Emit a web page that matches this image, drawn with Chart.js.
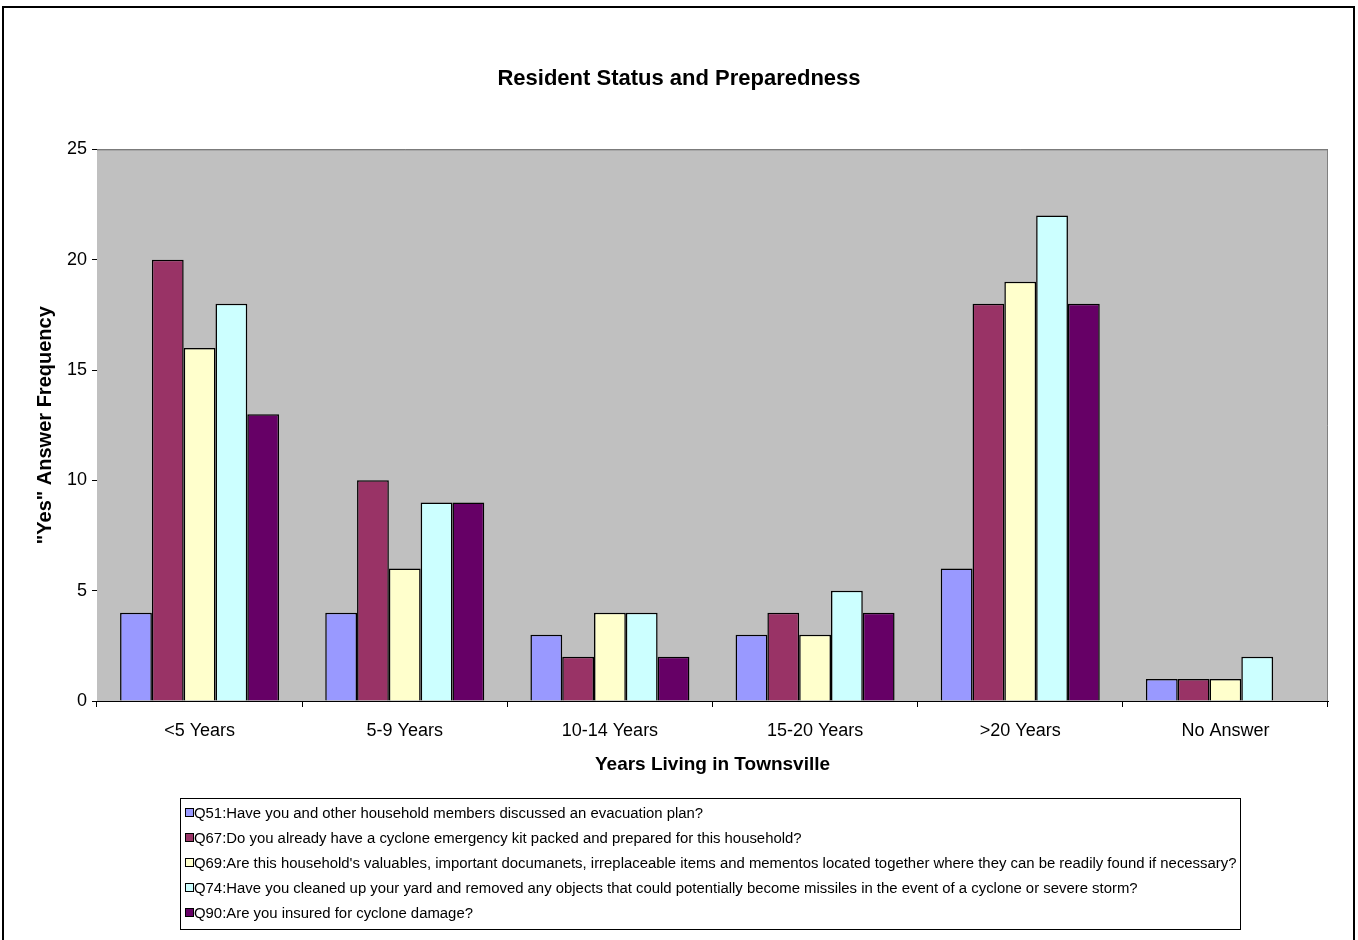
<!DOCTYPE html>
<html>
<head>
<meta charset="utf-8">
<title>Resident Status and Preparedness</title>
<script src="https://cdn.jsdelivr.net/npm/chart.js@4/dist/chart.umd.min.js"></script>
<style>
  html, body { margin: 0; padding: 0; background: #fff; }
  #wrap { position: relative; width: 1358px; height: 940px; }
</style>
</head>
<body>
<div id="wrap"><canvas id="prepChart" width="1358" height="940"></canvas></div>
<script>
// ---- data ----
const categories = ['<5 Years', '5-9 Years', '10-14 Years', '15-20 Years', '>20 Years', 'No Answer'];
const q51 = [4, 4, 3, 3, 6, 1];
const q67 = [20, 10, 2, 4, 18, 1];
const q69 = [16, 6, 4, 3, 19, 1];
const q74 = [18, 9, 4, 5, 22, 2];
const q90 = [13, 9, 2, 4, 18, 0];
const questions = [
  'Q51:Have you and other household members discussed an evacuation plan?',
  'Q67:Do you already have a cyclone emergency kit packed and prepared for this household?',
  'Q69:Are this household\'s valuables, important documanets, irreplaceable items and mementos located together where they can be readily found if necessary?',
  'Q74:Have you cleaned up your yard and removed any objects that could potentially become missiles in the event of a cyclone or severe storm?',
  'Q90:Are you insured for cyclone damage?'
];
const seriesColors = ['#9999FF', '#993366', '#FFFFCC', '#CCFFFF', '#660066'];
const yTicks = [0, 5, 10, 15, 20, 25];

const FONT = '"Liberation Sans", Arial, sans-serif';

// white page with the outer chart frame, grey plot background
const plotBackground = {
  id: 'plotBackground',
  beforeDraw(chart) {
    const { ctx } = chart;
    ctx.save();
    ctx.fillStyle = '#fff';
    ctx.fillRect(0, 0, chart.width, chart.height);
    ctx.lineWidth = 2;
    ctx.strokeStyle = '#000';
    ctx.strokeRect(3, 7, 1351, 945);
    ctx.restore();
  },
  beforeDatasetsDraw(chart) {
    const { ctx, chartArea: a } = chart;
    ctx.save();
    ctx.fillStyle = '#C0C0C0';
    ctx.fillRect(a.left, a.top, a.right - a.left, a.bottom - a.top);
    ctx.restore();
  }
};

// grey frame on the top and right edges of the plot
const plotFrame = {
  id: 'plotFrame',
  beforeDatasetsDraw(chart) {
    const { ctx, chartArea: a } = chart;
    ctx.save();
    ctx.strokeStyle = '#808080';
    ctx.lineWidth = 1;
    ctx.beginPath();
    ctx.moveTo(a.left, a.top + 0.5);
    ctx.lineTo(a.right - 0.5, a.top + 0.5);
    ctx.lineTo(a.right - 0.5, a.bottom);
    ctx.stroke();
    ctx.restore();
  }
};

// boxed legend, one question per row
const legendBox = {
  id: 'legendBox',
  afterDraw(chart) {
    const { ctx } = chart;
    const x = 180, y = 798, w = 1060, h = 131, row = 25;
    ctx.save();
    ctx.fillStyle = '#fff';
    ctx.fillRect(x, y, w, h);
    ctx.strokeStyle = '#000';
    ctx.lineWidth = 1;
    ctx.strokeRect(x + 0.5, y + 0.5, w, h);
    ctx.font = '14.9px ' + FONT;
    ctx.textBaseline = 'middle';
    chart.data.datasets.forEach((ds, i) => {
      const cy = y + 15 + i * row;
      ctx.fillStyle = ds.backgroundColor;
      ctx.fillRect(x + 5.5, cy - 4.5, 8, 8);
      ctx.strokeRect(x + 5.5, cy - 4.5, 8, 8);
      ctx.fillStyle = '#000';
      ctx.fillText(ds.label, x + 14, cy + 1);
    });
    ctx.restore();
  }
};

const seriesData = [q51, q67, q69, q74, q90];

new Chart(document.getElementById('prepChart'), {
  type: 'bar',
  data: {
    labels: categories,
    datasets: seriesData.map((vals, i) => ({
      label: questions[i],
      data: vals,
      backgroundColor: seriesColors[i],
      borderColor: '#000',
      borderWidth: 1.5,
      categoryPercentage: 0.775,
      barPercentage: 1
    }))
  },
  options: {
    responsive: false,
    animation: false,
    layout: { padding: 0 },
    plugins: {
      legend: { display: false },
      tooltip: { enabled: false },
      title: {
        display: true,
        text: 'Resident Status and Preparedness',
        color: '#000',
        font: { family: FONT, size: 22, weight: 'bold' },
        padding: { top: 66, bottom: 57 }
      }
    },
    scales: {
      x: {
        afterFit: s => { s.height = 239; },
        border: { color: '#000', width: 1 },
        grid: { offset: true, drawOnChartArea: false, drawTicks: true, tickLength: 6, color: '#000' },
        ticks: { color: '#000', font: { family: FONT, size: 18 }, padding: 13, maxRotation: 0 },
        title: {
          display: true,
          text: 'Years Living in Townsville',
          color: '#000',
          font: { family: FONT, size: 19, weight: 'bold' },
          padding: { top: 0, bottom: 164 }
        }
      },
      y: {
        min: 0,
        max: 25,
        afterFit: s => { s.width = 97; },
        afterBuildTicks: s => { s.ticks = yTicks.map(v => ({ value: v })); },
        border: { color: '#000', width: 1 },
        grid: { color: '#000', lineWidth: 1, drawTicks: true, tickLength: 5 },
        ticks: { color: '#000', font: { family: FONT, size: 18 }, padding: 5 },
        title: {
          display: true,
          text: '"Yes" Answer Frequency',
          color: '#000',
          font: { family: FONT, size: 20, weight: 'bold' },
          padding: { top: 33, bottom: 0 }
        }
      },
      // empty right-hand margin so the title centres on the whole page
      margin: {
        position: 'right',
        afterFit: s => { s.width = 30; },
        grid: { display: false },
        border: { display: false },
        ticks: { display: false }
      }
    }
  },
  plugins: [plotBackground, plotFrame, legendBox]
});
</script>
</body>
</html>
